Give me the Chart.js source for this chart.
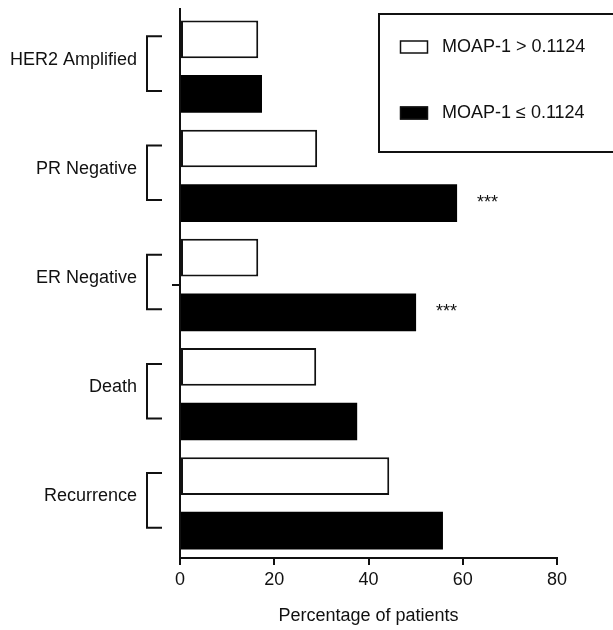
<!DOCTYPE html>
<html lang="en">
  <head>
    <meta charset="UTF-8" />
    <title>MOAP-1 and clinical features</title>
    <script src="https://cdn.jsdelivr.net/npm/chart.js"></script>
    <style>
      body {
        margin: 0;
        background: #ffffff;
      }
      #wrap {
        width: 613px;
        height: 630px;
      }
    </style>
  </head>
  <body>
    <div id="wrap">
      <canvas id="featureChart" width="613" height="630"></canvas>
    </div>

    <script>
      // data
      const categories = [
        "HER2 Amplified",
        "PR Negative",
        "ER Negative",
        "Death",
        "Recurrence",
      ];
      const highLabel = "MOAP-1 > 0.1124";
      const lowLabel = "MOAP-1 \u2264 0.1124";
      const highValues = [16.6, 29.1, 16.6, 28.9, 44.4];
      const lowValues = [17.4, 58.8, 50.1, 37.6, 55.8];
      const lowStars = ["", "***", "***", "", ""];
      const xTicks = [0, 20, 40, 60, 80];

      const FONT = "'Liberation Sans', Arial, sans-serif";
      const INK = "#111111";

      // category labels with brackets on the left side
      const bracketPlugin = {
        id: "brackets",
        afterDraw(chart) {
          const ctx = chart.ctx;
          const y = chart.scales.y;
          const high = chart.getDatasetMeta(0).data;
          const low = chart.getDatasetMeta(1).data;
          ctx.save();
          ctx.strokeStyle = INK;
          ctx.fillStyle = INK;
          ctx.lineWidth = 2;

          // axis runs a little above the first bar in the original
          ctx.beginPath();
          ctx.moveTo(180, chart.chartArea.top);
          ctx.lineTo(180, chart.chartArea.top - 4);
          ctx.stroke();

          ctx.font = "18px " + FONT;
          ctx.textAlign = "right";
          ctx.textBaseline = "middle";
          categories.forEach((name, i) => {
            const top = high[i].y - 3;
            const bottom = low[i].y - 3;
            ctx.beginPath();
            ctx.moveTo(162, top);
            ctx.lineTo(147, top);
            ctx.lineTo(147, bottom);
            ctx.lineTo(162, bottom);
            ctx.stroke();
            ctx.fillText(name, 137, y.getPixelForValue(i) - 7);
          });
          // stray tick on the axis next to ER Negative in the original
          const erY = y.getPixelForValue(2);
          ctx.beginPath();
          ctx.moveTo(172, erY);
          ctx.lineTo(180, erY);
          ctx.stroke();

          // significance marks
          ctx.textAlign = "left";
          ctx.font = "18px " + FONT;
          lowStars.forEach((s, i) => {
            if (!s) return;
            ctx.fillText(s, low[i].x + 20, low[i].y);
          });
          ctx.restore();
        },
      };

      // boxed legend in the upper right corner
      const legendPlugin = {
        id: "boxLegend",
        afterDraw(chart) {
          const ctx = chart.ctx;
          ctx.save();
          ctx.strokeStyle = INK;
          ctx.lineWidth = 2;
          ctx.strokeRect(379, 14, 240, 138);
          ctx.font = "18px " + FONT;
          ctx.textAlign = "left";
          ctx.textBaseline = "middle";
          chart.data.datasets.forEach((ds, i) => {
            const cy = i === 0 ? 47 : 113;
            ctx.fillStyle = ds.backgroundColor;
            ctx.fillRect(400, cy - 6.5, 28, 13);
            ctx.lineWidth = 1.5;
            ctx.strokeRect(400.5, cy - 6, 27, 12);
            ctx.fillStyle = INK;
            ctx.fillText(ds.label, 442, cy);
          });
          ctx.restore();
        },
      };

      new Chart(document.getElementById("featureChart"), {
        type: "bar",
        data: {
          labels: categories,
          datasets: [
            {
              label: highLabel,
              data: highValues,
              backgroundColor: "#ffffff",
              borderColor: INK,
              borderWidth: 2,
              borderSkipped: false,
            },
            {
              label: lowLabel,
              data: lowValues,
              backgroundColor: "#000000",
              borderColor: "#000000",
              borderWidth: 0,
            },
          ],
        },
        options: {
          indexAxis: "y",
          responsive: false,
          devicePixelRatio: 1,
          animation: false,
          layout: { padding: { top: 12, right: 56, left: 0, bottom: 0 } },
          datasets: {
            bar: { categoryPercentage: 1, barPercentage: 0.69 },
          },
          plugins: {
            legend: { display: false },
            tooltip: { enabled: false },
          },
          scales: {
            y: {
              ticks: { display: false },
              grid: { display: false },
              border: { display: true, color: INK, width: 2 },
              afterFit(scale) {
                scale.width = 180;
              },
            },
            x: {
              min: xTicks[0],
              max: xTicks[xTicks.length - 1],
              afterBuildTicks(scale) {
                scale.ticks = xTicks.map((v) => ({ value: v }));
              },
              ticks: {
                color: INK,
                padding: 4,
                font: { family: FONT, size: 18 },
              },
              grid: {
                drawOnChartArea: false,
                drawTicks: true,
                tickLength: 7,
                color: INK,
                lineWidth: 2,
              },
              border: { display: true, color: INK, width: 2 },
              title: {
                display: true,
                text: "Percentage of patients",
                color: INK,
                font: { family: FONT, size: 18 },
                padding: { top: 0, bottom: 3 },
              },
              afterFit(scale) {
                scale.height = 72;
              },
            },
          },
        },
        plugins: [bracketPlugin, legendPlugin],
      });
    </script>
  </body>
</html>
